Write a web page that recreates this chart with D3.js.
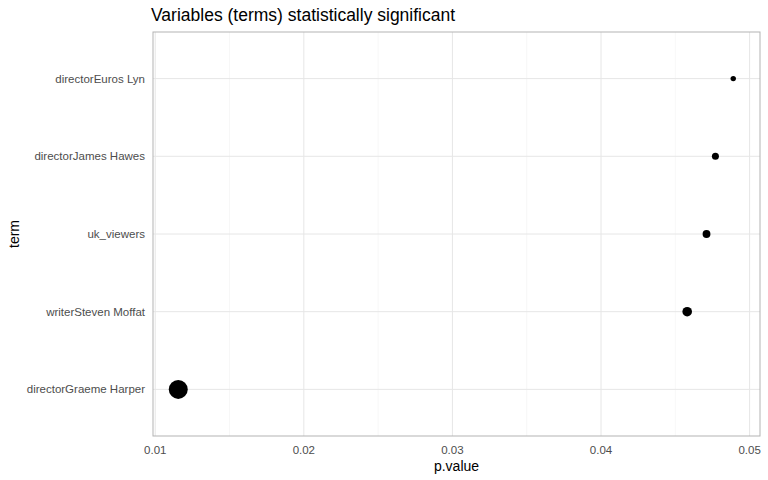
<!DOCTYPE html>
<html><head><meta charset="utf-8">
<style>body{margin:0;background:#fff;font-family:"Liberation Sans",Arial,sans-serif}</style>
</head><body>
<div id="chart"></div>
<script src="https://d3js.org/d3.v7.min.js"></script>
<script>
const terms = ['directorGraeme Harper', 'writerSteven Moffat', 'uk_viewers', 'directorJames Hawes', 'directorEuros Lyn'];
const pValues = [0.01155, 0.0458, 0.0471, 0.0477, 0.0489];
const xTicks = [0.01, 0.02, 0.03, 0.04, 0.05];

const svg = d3.select('#chart').append('svg').attr('width', 768).attr('height', 480);
const margin = { top: 32, right: 8, bottom: 44, left: 153 };
const width = 768 - margin.left - margin.right;
const height = 480 - margin.top - margin.bottom;
const g = svg.append('g').attr('transform', `translate(${margin.left},${margin.top})`);

const x = d3.scaleLinear().domain([0.00985, 0.0507]).range([0, width]);
const y = d3.scalePoint().domain(terms.slice().reverse()).range([0, height]).padding(0.6);
const r = d3.scaleLinear().domain([0.01155, 0.0458, 0.0489]).range([9.5, 4.8, 2.7]);

// minor grid
for (let i = 0; i < xTicks.length - 1; i++) {
    const m = (xTicks[i] + xTicks[i + 1]) / 2;
    g.append('line').attr('x1', x(m)).attr('x2', x(m)).attr('y1', 0).attr('y2', height)
        .attr('stroke', '#f2f2f2').attr('stroke-width', 0.6);
}
xTicks.forEach(t => g.append('line').attr('x1', x(t)).attr('x2', x(t)).attr('y1', 0).attr('y2', height)
    .attr('stroke', '#e6e6e6').attr('stroke-width', 1));
terms.forEach(t => g.append('line').attr('x1', 0).attr('x2', width).attr('y1', y(t)).attr('y2', y(t))
    .attr('stroke', '#e6e6e6').attr('stroke-width', 1));
g.append('rect').attr('width', width).attr('height', height).attr('fill', 'none').attr('stroke', '#b3b3b3');

g.selectAll('circle').data(terms).enter().append('circle')
    .attr('cx', (d, i) => x(pValues[i])).attr('cy', d => y(d))
    .attr('r', (d, i) => r(pValues[i])).attr('fill', '#000');

g.selectAll('.xt').data(xTicks).enter().append('text')
    .attr('x', d => x(d)).attr('y', height + 18).attr('text-anchor', 'middle')
    .attr('font-size', 11.5).attr('fill', '#4d4d4d').text(d => d.toFixed(2));
g.selectAll('.yt').data(terms).enter().append('text')
    .attr('x', -8).attr('y', d => y(d)).attr('dy', '.35em').attr('text-anchor', 'end')
    .attr('font-size', 11.5).attr('fill', '#4d4d4d').text(d => d);

svg.append('text').attr('x', margin.left + width / 2).attr('y', 471).attr('text-anchor', 'middle')
    .attr('font-size', 14).text('p.value');
svg.append('text').attr('transform', `translate(19,${margin.top + height / 2}) rotate(-90)`)
    .attr('text-anchor', 'middle').attr('font-size', 14).text('term');
svg.append('text').attr('x', 151).attr('y', 21).attr('font-size', 17.5)
    .text('Variables (terms) statistically significant');
</script>
</body></html>
